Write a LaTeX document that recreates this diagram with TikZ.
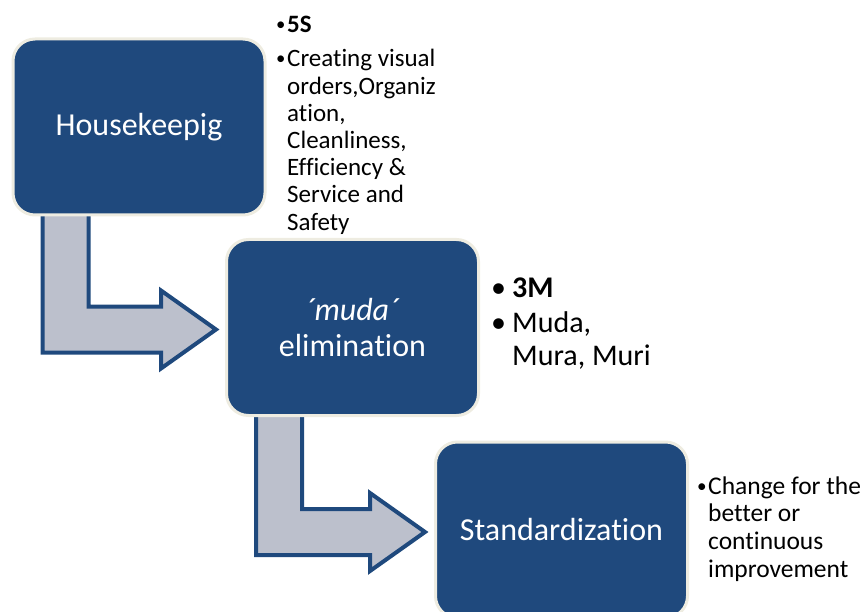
\documentclass[tikz,border=0pt]{standalone}
\usepackage{fontspec}
\setmainfont[Ligatures=NoCommon]{Carlito}
\usetikzlibrary{calc,backgrounds}
\definecolor{boxblue}{HTML}{1F497D}
\definecolor{boxrim}{HTML}{EEECE1}
\definecolor{arrowgray}{HTML}{BCC0CC}

\begin{document}
\begin{tikzpicture}[x=1pt,y=-1pt,
    stage/.style={draw=boxrim, line width=3pt, fill=boxblue, rounded corners=22pt,
      minimum width=252pt, minimum height=176pt, text=white, align=center,
      font=\fontsize{32}{36}\selectfont},
    note/.style={anchor=base west, inner sep=0pt, align=left},
    bent/.style={draw=boxblue, line width=4pt, fill=arrowgray, line join=miter}]
  \clip (0,0) rectangle (867,612);

  \node[stage] (house) at (139,127) {Housekeepig};
  \node[stage] (muda) at (352.5,327.5) {\textit{´muda´}\\elimination};
  \node[stage] (std) at (561.5,530) {Standardization};

  \node[note, font=\fontsize{25}{27.2}\selectfont] (list5s) at (276,33) {%
    \begin{tabular}[t]{@{}l@{}l@{}}
      \makebox[11pt][l]{\raisebox{2pt}{\scalebox{0.75}{•}}}&\textbf{5S}\\[6.8pt]
      \makebox[11pt][l]{\raisebox{2pt}{\scalebox{0.75}{•}}}&Creating visual\\
      &orders,Organiz\\
      &ation,\\
      &Cleanliness,\\
      &Efficiency \&\\
      &Service and\\
      &Safety
    \end{tabular}};
  \node[note, font=\fontsize{30}{32}\selectfont] (list3m) at (491,298) {%
    \begin{tabular}[t]{@{}l@{}l@{}}
      \makebox[21pt][l]{•}&\textbf{3M}\\[3pt]
      \makebox[21pt][l]{•}&Muda,\\
      &Mura, Muri
    \end{tabular}};
  \node[note, font=\fontsize{25.5}{27.8}\selectfont] (listkaizen) at (697,494) {%
    \begin{tabular}[t]{@{}l@{}l@{}}
      \makebox[11pt][l]{\raisebox{2pt}{\scalebox{0.75}{•}}}&Change for the\\
      &better or\\
      &continuous\\
      &improvement
    \end{tabular}};

  \begin{pgfonlayer}{background}
    \foreach \a/\b in {house/muda,muda/std}{
      \coordinate (tl) at ($(\a.south west)+(31,-6)$);
      \coordinate (tr) at ($(\a.south west)+(77,-6)$);
      \coordinate (tip) at ($(\b.west)+(-9,2)$);
      \coordinate (hb) at ($(tip)+(-55,0)$);
      \coordinate (bt) at ($(tip)+(0,-23)$);
      \coordinate (bb) at ($(tip)+(0,23)$);
      \draw[bent] (tr) -- (tr |- bt) -- (hb |- bt) -- ($(hb)+(0,-39)$) -- (tip)
        -- ($(hb)+(0,39)$) -- (hb |- bb) -- (tl |- bb) -- (tl) -- cycle;
    }
  \end{pgfonlayer}
\end{tikzpicture}
\end{document}
